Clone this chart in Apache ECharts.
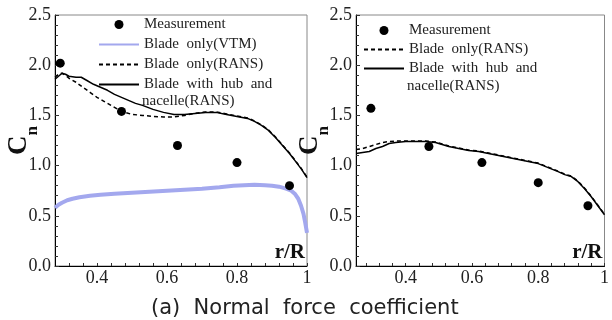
<!DOCTYPE html>
<html><head><meta charset="utf-8">
<script src="https://cdn.jsdelivr.net/npm/echarts@6/dist/echarts.min.js"></script>
<style>html,body{margin:0;padding:0;background:#fff}#c{width:612px;height:320px}</style>
</head><body><div id="c"></div>
<script>
// ---- data ----
const measX = [0.295, 0.47, 0.63, 0.80, 0.95];
const measLeft = [2.02, 1.54, 1.20, 1.03, 0.80];
const measRight = [1.57, 1.19, 1.03, 0.83, 0.60];

const vtmX = [0.28,0.29,0.30,0.315,0.33,0.35,0.38,0.41,0.45,0.50,0.55,0.60,0.65,0.70,0.75,0.79,0.82,0.85,0.88,0.90,0.92,0.94,0.955,0.965,0.975,0.983,0.99,0.995,1.0];
const vtmY = [0.58,0.61,0.63,0.655,0.67,0.685,0.70,0.71,0.72,0.73,0.74,0.75,0.76,0.77,0.785,0.80,0.805,0.81,0.805,0.80,0.79,0.77,0.75,0.72,0.67,0.60,0.52,0.43,0.33];

const ransLX = [0.28,0.29,0.30,0.31,0.32,0.34,0.36,0.38,0.40,0.42,0.44,0.46,0.48,0.50,0.53,0.56,0.59,0.62,0.65,0.68,0.71,0.74,0.77,0.80,0.83,0.85,0.87,0.89,0.91,0.93,0.95,0.97,0.985,1.0];
const ransLY = [1.88,1.91,1.92,1.90,1.87,1.83,1.78,1.73,1.68,1.64,1.60,1.56,1.53,1.51,1.50,1.49,1.485,1.485,1.50,1.52,1.535,1.535,1.515,1.495,1.475,1.445,1.405,1.355,1.285,1.205,1.125,1.035,0.965,0.885];

const hubLX = [0.28,0.29,0.30,0.31,0.32,0.34,0.355,0.37,0.39,0.41,0.43,0.45,0.47,0.49,0.51,0.53,0.56,0.59,0.62,0.65,0.68,0.71,0.74,0.77,0.80,0.83,0.85,0.87,0.89,0.91,0.93,0.95,0.97,0.985,1.0];
const hubLY = [1.86,1.89,1.92,1.91,1.89,1.88,1.88,1.85,1.81,1.78,1.75,1.71,1.68,1.65,1.62,1.60,1.56,1.53,1.51,1.51,1.52,1.53,1.53,1.51,1.49,1.47,1.44,1.40,1.35,1.28,1.20,1.12,1.03,0.96,0.88];

const ransRX = [0.25,0.27,0.29,0.31,0.33,0.35,0.37,0.40,0.43,0.46,0.49,0.51,0.53,0.56,0.59,0.62,0.65,0.68,0.71,0.74,0.77,0.80,0.83,0.86,0.88,0.90,0.92,0.94,0.96,0.98,1.0];
const ransRY = [1.16,1.17,1.19,1.21,1.23,1.24,1.245,1.245,1.245,1.245,1.235,1.215,1.195,1.175,1.155,1.145,1.125,1.105,1.085,1.065,1.045,1.025,0.985,0.945,0.915,0.895,0.845,0.775,0.695,0.605,0.515];

const hubRX = [0.25,0.27,0.29,0.31,0.33,0.35,0.37,0.40,0.43,0.46,0.49,0.51,0.53,0.56,0.59,0.62,0.65,0.68,0.71,0.74,0.77,0.80,0.83,0.86,0.88,0.90,0.92,0.94,0.96,0.98,1.0];
const hubRY = [1.12,1.13,1.14,1.17,1.19,1.22,1.23,1.24,1.24,1.24,1.23,1.21,1.19,1.17,1.15,1.14,1.12,1.10,1.08,1.06,1.04,1.02,0.98,0.94,0.91,0.89,0.84,0.77,0.69,0.60,0.51];

const xLabelValues = [0.4, 0.6, 0.8, 1.0];
const xTickLeft = [0.32,0.36,0.40,0.44,0.48,0.52,0.56,0.60,0.64,0.68,0.72,0.76,0.80,0.84,0.88,0.92,0.96,1.0];
const xTickRight = [0.28,0.32,0.36,0.40,0.44,0.48,0.52,0.56,0.60,0.64,0.68,0.72,0.76,0.80,0.84,0.88,0.92,0.96,1.0];

const nameMeas = 'Measurement';
const nameVTM = 'Blade  only(VTM)';
const nameRANS = 'Blade  only(RANS)';
const nameHub = 'Blade  with  hub  and';
const nameHub2 = 'nacelle(RANS)';
const caption = '(a)  Normal  force  coefficient';

// ---- chart ----
const serif = 'Liberation Serif';
const pairs = (xs, ys) => xs.map((x, i) => [x, ys[i]]);
const chart = echarts.init(document.getElementById('c'));

function xAxisFor(gi, min, ticks) {
  return {
    type: 'value', gridIndex: gi, min: min, max: 1,
    name: 'r/R', nameLocation: 'end', nameGap: 0,
    nameTextStyle: {fontFamily: serif, fontWeight: 'bold', fontSize: 21, color: '#111',
      align: 'right', verticalAlign: 'bottom', padding: [0, 2, 3, 0]},
    axisLine: {show: true, onZero: false, lineStyle: {color: '#000', width: 1}},
    axisTick: {show: true, inside: true, length: 3, customValues: ticks, lineStyle: {color: '#333'}},
    axisLabel: {customValues: xLabelValues, fontFamily: serif, fontSize: 18, color: '#222', margin: 3,
      formatter: v => (v === 1 ? '1' : v.toFixed(1))},
    splitLine: {show: false}
  };
}
function yAxisFor(gi, gap) {
  return {
    type: 'value', gridIndex: gi, min: 0, max: 2.5, interval: 0.5,
    name: '{c|C}{n|n}', nameLocation: 'middle', nameRotate: 90, nameGap: gap, nameMoveOverlap: false,
    nameTextStyle: {rich: {
      c: {fontFamily: serif, fontWeight: 'bold', fontSize: 27, color: '#111', verticalAlign: 'bottom', padding: [0, 0, 8, 0]},
      n: {fontFamily: serif, fontWeight: 'bold', fontSize: 17, color: '#111', verticalAlign: 'bottom'}
    }},
    axisLine: {show: true, lineStyle: {color: '#000', width: 1}},
    axisTick: {show: true, inside: true, length: 4, lineStyle: {color: '#333'}},
    minorTick: {show: true, splitNumber: 5, length: 3, lineStyle: {color: '#333'}},
    axisLabel: {fontFamily: serif, fontSize: 18, color: '#222', margin: 4, formatter: v => v.toFixed(1)},
    splitLine: {show: false}
  };
}
const legendText = {fontFamily: serif, fontSize: 15, lineHeight: 15, color: '#222'};
const dashed = {color: '#000', width: 1.5, type: [4, 3]};
const solid = {color: '#000', width: 1.5};
const noSymbol = {color: 'rgba(0,0,0,0)', borderColor: 'rgba(0,0,0,0)', borderWidth: 0};
const lineLegend = name => ({name: name, itemStyle: noSymbol});
const dot = {color: '#000', opacity: 1};

chart.setOption({
  animation: false,
  backgroundColor: '#fff',
  title: {text: caption, left: 146, top: 293,
    textStyle: {fontFamily: 'DejaVu Sans', fontWeight: 'normal', fontSize: 21, lineHeight: 21, color: '#222'}},
  grid: [
    {left: 55, top: 15, width: 252, height: 251, show: true, borderColor: '#888', borderWidth: 1},
    {left: 356, top: 15, width: 254, height: 251, show: true, borderColor: '#888', borderWidth: 1}
  ],
  xAxis: [xAxisFor(0, 0.28, xTickLeft), xAxisFor(1, 0.25, xTickRight)],
  yAxis: [yAxisFor(0, 14), yAxisFor(1, 24)],
  legend: [
    {orient: 'vertical', left: 93, top: 12, itemWidth: 40, itemHeight: 9, itemGap: 5,
      selectedMode: false, textStyle: legendText,
      data: [{name: nameMeas, itemStyle: dot}, lineLegend(nameVTM), lineLegend(nameRANS), lineLegend(nameHub)]},
    {orient: 'vertical', left: 358, top: 18, itemWidth: 40, itemHeight: 9, itemGap: 4,
      selectedMode: false, textStyle: legendText,
      data: [{name: nameMeas, itemStyle: dot}, lineLegend(nameRANS), lineLegend(nameHub)]}
  ],
  graphic: [
    {type: 'text', left: 142, top: 94, style: {text: nameHub2, font: '15px "Liberation Serif"', fill: '#222'}},
    {type: 'text', left: 407, top: 79, style: {text: nameHub2, font: '15px "Liberation Serif"', fill: '#222'}}
  ],
  series: [
    {name: nameVTM, type: 'line', xAxisIndex: 0, yAxisIndex: 0, symbol: 'none', showSymbol: false,
      lineStyle: {color: '#a3a8ee', width: 4}, itemStyle: {color: '#a3a8ee'}, data: pairs(vtmX, vtmY)},
    {name: nameRANS, type: 'line', xAxisIndex: 0, yAxisIndex: 0, symbol: 'none', showSymbol: false,
      lineStyle: dashed, itemStyle: {color: '#000'}, data: pairs(ransLX, ransLY)},
    {name: nameHub, type: 'line', xAxisIndex: 0, yAxisIndex: 0, symbol: 'none', showSymbol: false,
      lineStyle: solid, itemStyle: {color: '#000'}, data: pairs(hubLX, hubLY)},
    {name: nameMeas, type: 'scatter', xAxisIndex: 0, yAxisIndex: 0, symbol: 'circle', symbolSize: 9,
      itemStyle: dot, z: 5, data: pairs(measX, measLeft)},
    {name: nameRANS, type: 'line', xAxisIndex: 1, yAxisIndex: 1, symbol: 'none', showSymbol: false,
      lineStyle: dashed, itemStyle: {color: '#000'}, data: pairs(ransRX, ransRY)},
    {name: nameHub, type: 'line', xAxisIndex: 1, yAxisIndex: 1, symbol: 'none', showSymbol: false,
      lineStyle: solid, itemStyle: {color: '#000'}, data: pairs(hubRX, hubRY)},
    {name: nameMeas, type: 'scatter', xAxisIndex: 1, yAxisIndex: 1, symbol: 'circle', symbolSize: 9,
      itemStyle: dot, z: 5, data: pairs(measX, measRight)}
  ]
});
</script></body></html>
